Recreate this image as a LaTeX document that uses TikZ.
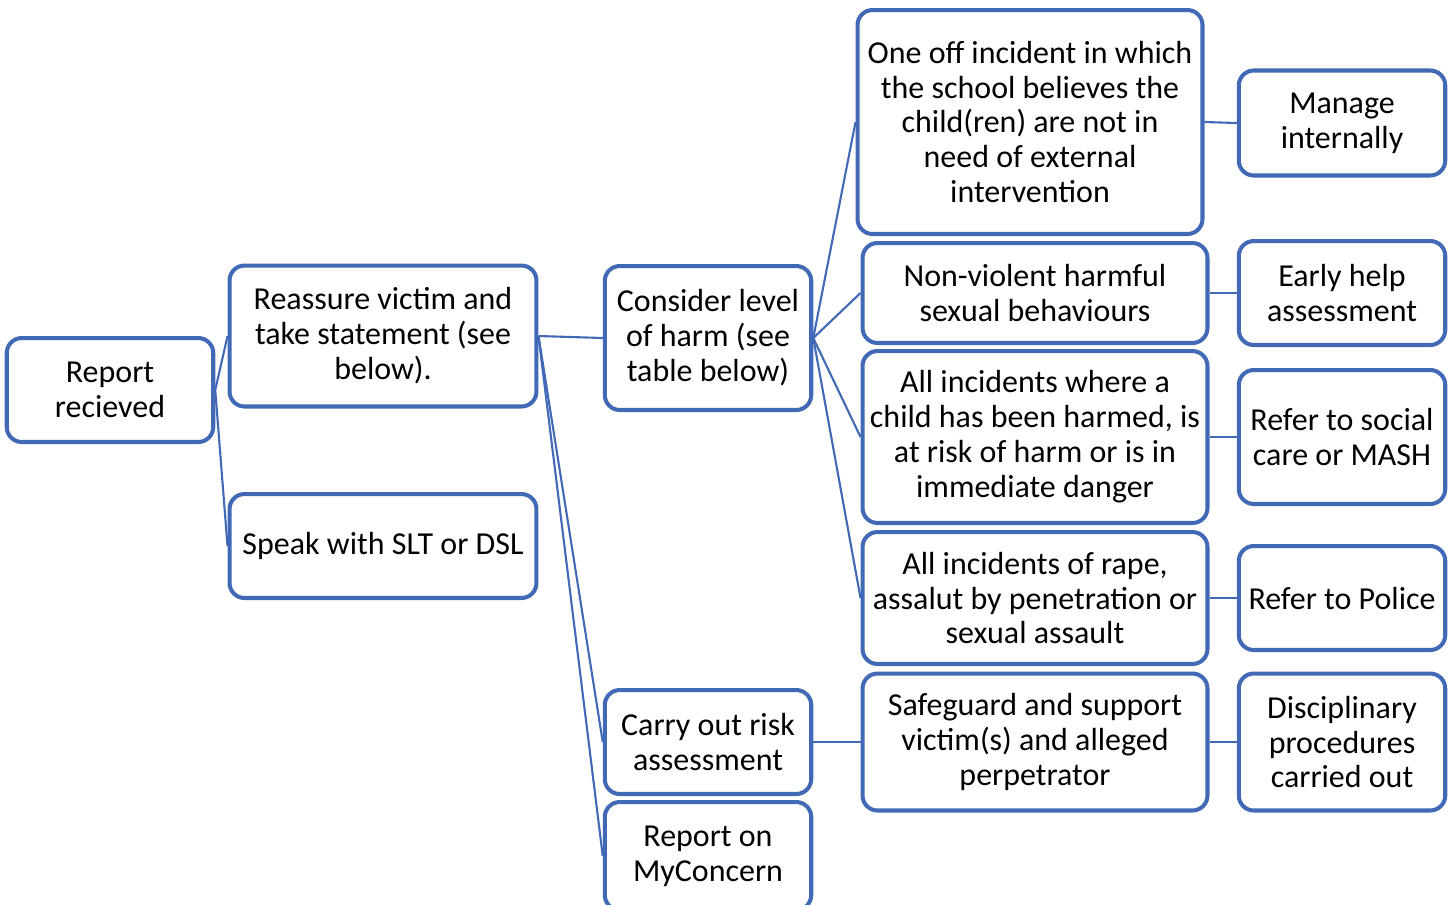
\documentclass[tikz,border=0pt]{standalone}
\usepackage{fontspec}
\setmainfont{Carlito}
\usepackage{xcolor}
\definecolor{chartblue}{HTML}{4169B5}

\begin{document}
\begin{tikzpicture}[
  x=0.02cm,
  y=-0.02cm,
  every node/.style={font=\fontsize{18.2}{19.9}\selectfont, black},
  box/.style={draw=chartblue, line width=2.3pt, rounded corners=0.3cm,
    fill=white, align=center, inner sep=2pt},
  wide/.style={box, minimum width=6.9cm},
  narrow/.style={box, minimum width=4.13cm},
  link/.style={chartblue, line width=1.2pt}
]
  % ---- page size of the chart ------------------------------------------
  \useasboundingbox (0,0) rectangle (1453,904);

  % ---- first two columns -------------------------------------------------
  \node[narrow, minimum height=2.08cm] (report) at (110,390) {Report\\recieved};
  \node[box, minimum width=6.14cm, minimum height=2.82cm] (reassure) at (383,336)
    {Reassure victim and\\take statement (see\\below).};
  \node[box, minimum width=6.14cm, minimum height=2.08cm] (speak) at (383,546)
    {Speak with SLT or DSL};

  % ---- third column ------------------------------------------------------
  \node[narrow, minimum height=2.88cm] (consider) at (708,338)
    {Consider level\\of harm (see\\table below)};
  \node[narrow, minimum height=2.08cm] (risk) at (708,742)
    {Carry out risk\\assessment};
  \node[narrow, minimum height=2.16cm] (myconcern) at (708,856)
    {Report on\\MyConcern};

  % ---- levels of harm ----------------------------------------------------
  \node[wide, minimum height=4.48cm] (oneoff) at (1030,122)
    {One off incident in which\\the school believes the\\child(ren) are not in\\need of external\\intervention};
  \node[wide, minimum height=2.0cm] (nonviolent) at (1035,293)
    {Non-violent harmful\\sexual behaviours};
  \node[wide, minimum height=3.44cm] (harmed) at (1035,437)
    {All incidents where a\\child has been harmed, is\\at risk of harm or is in\\immediate danger};
  \node[wide, minimum height=2.64cm] (rape) at (1035,598)
    {All incidents of rape,\\assalut by penetration or\\sexual assault};
  \node[wide, minimum height=2.74cm] (safeguard) at (1035,742)
    {Safeguard and support\\victim(s) and alleged\\perpetrator};

  % ---- outcomes ----------------------------------------------------------
  \node[narrow, minimum height=2.1cm] (internal) at (1342,123) {Manage\\internally};
  \node[narrow, minimum height=2.08cm] (earlyhelp) at (1342,293) {Early help\\assessment};
  \node[narrow, minimum height=2.68cm] (mash) at (1342,437) {Refer to social\\care or MASH};
  \node[narrow, minimum height=2.08cm] (police) at (1342,598) {Refer to Police};
  \node[narrow, minimum height=2.74cm] (discipline) at (1342,742)
    {Disciplinary\\procedures\\carried out};

  % ---- connectors --------------------------------------------------------
  \draw[link] (report.east) -- (reassure.west);
  \draw[link] (report.east) -- (speak.west);
  \draw[link] (reassure.east) -- (consider.west);
  \draw[link] (reassure.east) -- (risk.west);
  \draw[link] (reassure.east) -- (myconcern.west);
  \foreach \lvl in {oneoff, nonviolent, harmed, rape}
    \draw[link] (consider.east) -- (\lvl.west);
  \draw[link] (risk.east) -- (safeguard.west);
  \draw[link] (oneoff.east) -- (internal.west);
  \draw[link] (nonviolent.east) -- (earlyhelp.west);
  \draw[link] (harmed.east) -- (mash.west);
  \draw[link] (rape.east) -- (police.west);
  \draw[link] (safeguard.east) -- (discipline.west);
\end{tikzpicture}
\end{document}
